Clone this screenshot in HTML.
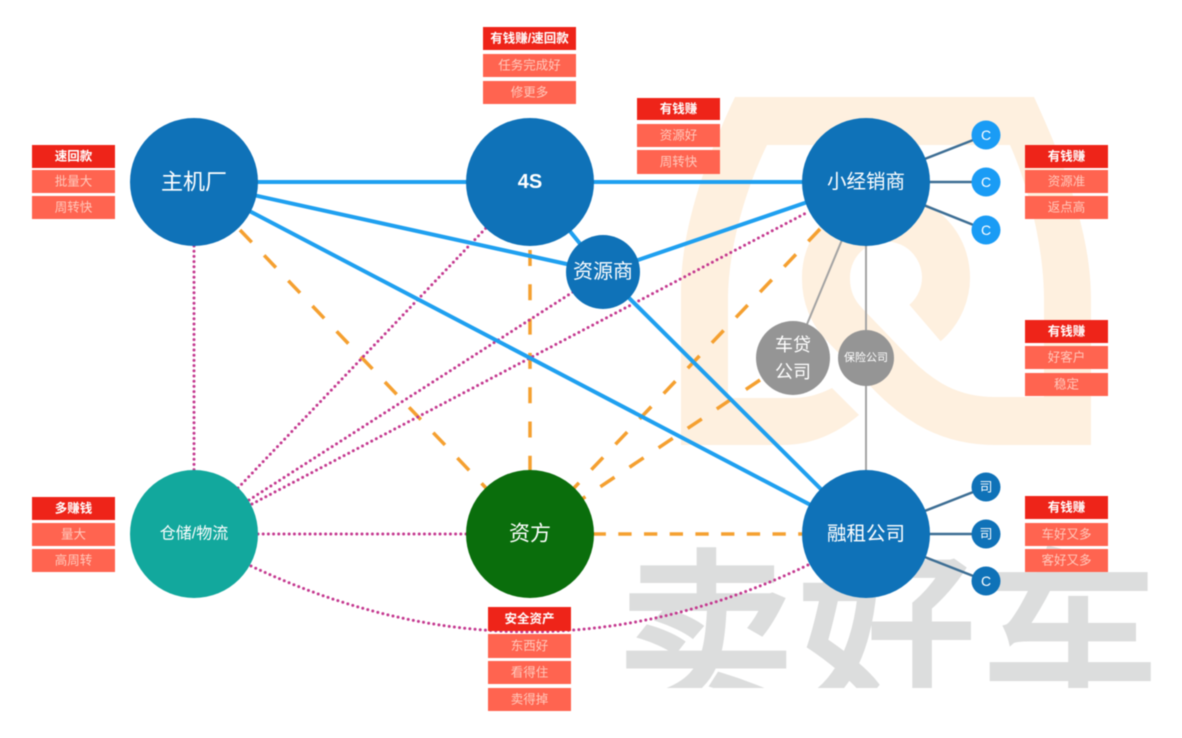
<!DOCTYPE html>
<html><head><meta charset="utf-8"><style>
html,body{margin:0;padding:0;background:#fff;width:1182px;height:738px;overflow:hidden}
svg{display:block;filter:blur(.4px)}
text{font-family:"Liberation Sans","Noto Sans CJK SC",sans-serif;text-anchor:middle;dominant-baseline:central}
text.w{font-family:"Noto Sans CJK SC","WenQuanYi Zen Hei",sans-serif;font-size:176px;font-weight:400;fill:#DCDDDD;stroke:#DCDDDD;stroke-width:6}
.n{fill:#fff}
.h{fill:#fff;font-size:12.5px;font-weight:bold}
.s{fill:#FFC9BC;font-size:12.5px}
.bh{fill:#EE2419}
.bs{fill:#FF6450}
.blue{stroke:#1FA0F0;stroke-width:4;fill:none}
.pink{stroke:#C4388F;stroke-width:3;stroke-dasharray:0 5.2;stroke-linecap:round;fill:none}
.org{stroke:#F5A030;stroke-width:3.5;stroke-dasharray:17 18;fill:none}
.gry{stroke:#A3A3A3;stroke-width:2;fill:none}
.spk{stroke:#3D6E94;stroke-width:2.5;fill:none}
</style></head><body>
<svg width="1182" height="738" viewBox="0 0 1182 738" xmlns="http://www.w3.org/2000/svg">
<defs><clipPath id="wm"><rect x="600" y="500" width="582" height="188"/></clipPath></defs>
<rect width="1182" height="738" fill="#fff"/>
<path fill="#FEF0DF" d="M735,97 L1034,97 C1070,175 1091,240 1091,300 L1091,445 L1044,445 L1044,300 C1044,250 1030,190 1010,145 L767,145 C745,190 728,250 728,300 L728,398 L793,398 C808,398 820,394 832,388 L859,415 C835,435 810,445 782,445 L681,445 L681,290 C681,230 705,160 735,97 Z"/>
<path fill="none" stroke="#FEF0DF" stroke-width="48" d="M1091,421 L995,421 C950,421 920,402 893,375 L845,325 C832,312 826,296 826,279 A60,60 0 1 1 925,323"/>
<g clip-path="url(#wm)"><text class="w" x="706" y="621">卖</text><text class="w" x="887" y="621">好</text><text class="w" x="1070" y="621">车</text></g>

<line class="gry" x1="866" y1="182" x2="793" y2="358"/>
<line class="gry" x1="866" y1="182" x2="866" y2="534"/>

<line class="org" x1="240" y1="230" x2="486" y2="488"/>
<line class="org" style="stroke-dasharray:16 18.3" x1="530" y1="250" x2="530" y2="470"/>
<line class="org" x1="820" y1="229" x2="574" y2="488"/>
<line class="org" x1="760" y1="380" x2="582" y2="499"/>
<line class="org" style="stroke-dasharray:13.3 12.4" x1="592.6" y1="534" x2="802" y2="534"/>

<line class="pink" x1="194" y1="246" x2="194" y2="470"/>
<line class="pink" x1="238" y1="488" x2="486" y2="228"/>
<line class="pink" x1="249" y1="500" x2="573" y2="292"/>
<line class="pink" x1="252" y1="504" x2="808" y2="212"/>
<line class="pink" x1="258" y1="534" x2="466" y2="534"/>
<path class="pink" d="M251,566 Q530,698 808,565"/>

<line class="blue" x1="194" y1="182" x2="866" y2="182"/>
<line class="blue" x1="194" y1="182" x2="603" y2="272"/>
<line class="blue" x1="194" y1="182" x2="866" y2="534"/>
<line class="blue" x1="530" y1="182" x2="603" y2="272"/>
<line class="blue" x1="603" y1="272" x2="866" y2="182"/>
<line class="blue" x1="603" y1="272" x2="866" y2="534"/>

<line class="spk" x1="866" y1="182" x2="986" y2="135"/>
<line class="spk" x1="866" y1="182" x2="986" y2="182"/>
<line class="spk" x1="866" y1="182" x2="986" y2="230"/>
<line class="spk" x1="866" y1="534" x2="986" y2="487"/>
<line class="spk" x1="866" y1="534" x2="986" y2="534"/>
<line class="spk" x1="866" y1="534" x2="986" y2="581"/>

<circle cx="194" cy="182" r="64" fill="#0F72B8"/><text class="n" x="194" y="182" font-size="22">主机厂</text>
<circle cx="530" cy="182" r="64" fill="#0F72B8"/><text class="n" x="530" y="182" font-size="20" font-weight="bold">4S</text>
<circle cx="866" cy="182" r="64" fill="#0F72B8"/><text class="n" x="866" y="182" font-size="19.5">小经销商</text>
<circle cx="194" cy="534" r="64" fill="#12A89D"/><text class="n" x="194" y="534" font-size="16">仓储/物流</text>
<circle cx="530" cy="534" r="64" fill="#0A6E0C"/><text class="n" x="530" y="534" font-size="21">资方</text>
<circle cx="866" cy="534" r="64" fill="#0F72B8"/><text class="n" x="866" y="534" font-size="19.5">融租公司</text>
<circle cx="603" cy="272" r="37" fill="#0F72B8"/><text class="n" x="603" y="272" font-size="20">资源商</text>
<circle cx="793" cy="358" r="37" fill="#959595"/><text class="n" x="793" y="345" font-size="18">车贷</text><text class="n" x="793" y="372" font-size="18">公司</text>
<circle cx="866" cy="358" r="28" fill="#959595"/><text class="n" x="866" y="358" font-size="11">保险公司</text>

<circle cx="986" cy="135" r="14.5" fill="#1A9CF5"/><text class="n" x="986" y="135" font-size="14">C</text>
<circle cx="986" cy="182" r="14.5" fill="#1A9CF5"/><text class="n" x="986" y="182" font-size="14">C</text>
<circle cx="986" cy="230" r="14.5" fill="#1A9CF5"/><text class="n" x="986" y="230" font-size="14">C</text>
<circle cx="986" cy="487" r="14.5" fill="#0F72B8"/><text class="n" x="986" y="487" font-size="13">司</text>
<circle cx="986" cy="534" r="14.5" fill="#0F72B8"/><text class="n" x="986" y="534" font-size="13">司</text>
<circle cx="986" cy="581" r="14.5" fill="#0F72B8"/><text class="n" x="986" y="581" font-size="14">C</text>

<rect class="bh" x="32" y="145" width="83" height="23"/><text class="h" x="73.5" y="156.5">速回款</text>
<rect class="bs" x="32" y="170" width="83" height="23"/><text class="s" x="73.5" y="181.5">批量大</text>
<rect class="bs" x="32" y="196" width="83" height="23"/><text class="s" x="73.5" y="207.5">周转快</text>

<rect class="bh" x="483" y="27" width="93" height="23"/><text class="h" x="529.5" y="38.5">有钱赚/速回款</text>
<rect class="bs" x="483" y="54" width="93" height="23"/><text class="s" x="529.5" y="65.5">任务完成好</text>
<rect class="bs" x="483" y="81" width="93" height="23"/><text class="s" x="529.5" y="92.5">修更多</text>

<rect class="bh" x="637" y="98" width="83" height="22"/><text class="h" x="678.5" y="109">有钱赚</text>
<rect class="bs" x="637" y="124" width="83" height="23"/><text class="s" x="678.5" y="135.5">资源好</text>
<rect class="bs" x="637" y="150" width="83" height="24"/><text class="s" x="678.5" y="162">周转快</text>

<rect class="bh" x="1025" y="145" width="83" height="23"/><text class="h" x="1066.5" y="156.5">有钱赚</text>
<rect class="bs" x="1025" y="170" width="83" height="23"/><text class="s" x="1066.5" y="181.5">资源准</text>
<rect class="bs" x="1025" y="196" width="83" height="23"/><text class="s" x="1066.5" y="207.5">返点高</text>

<rect class="bh" x="1025" y="320" width="83" height="23"/><text class="h" x="1066.5" y="331.5">有钱赚</text>
<rect class="bs" x="1025" y="346" width="83" height="23"/><text class="s" x="1066.5" y="357.5">好客户</text>
<rect class="bs" x="1025" y="373" width="83" height="23"/><text class="s" x="1066.5" y="384.5">稳定</text>

<rect class="bh" x="1025" y="496" width="83" height="23"/><text class="h" x="1066.5" y="507.5">有钱赚</text>
<rect class="bs" x="1025" y="523" width="83" height="23"/><text class="s" x="1066.5" y="534.5">车好又多</text>
<rect class="bs" x="1025" y="549" width="83" height="23"/><text class="s" x="1066.5" y="560.5">客好又多</text>

<rect class="bh" x="32" y="497" width="83" height="23"/><text class="h" x="73.5" y="508.5">多赚钱</text>
<rect class="bs" x="32" y="523" width="83" height="23"/><text class="s" x="73.5" y="534.5">量大</text>
<rect class="bs" x="32" y="549" width="83" height="23"/><text class="s" x="73.5" y="560.5">高周转</text>

<rect class="bh" x="488" y="607" width="83" height="24"/><text class="h" x="529.5" y="619">安全资产</text>
<rect class="bs" x="488" y="634" width="83" height="24"/><text class="s" x="529.5" y="646">东西好</text>
<rect class="bs" x="488" y="661" width="83" height="23"/><text class="s" x="529.5" y="672.5">看得住</text>
<rect class="bs" x="488" y="688" width="83" height="23"/><text class="s" x="529.5" y="699.5">卖得掉</text>
</svg>
</body></html>
